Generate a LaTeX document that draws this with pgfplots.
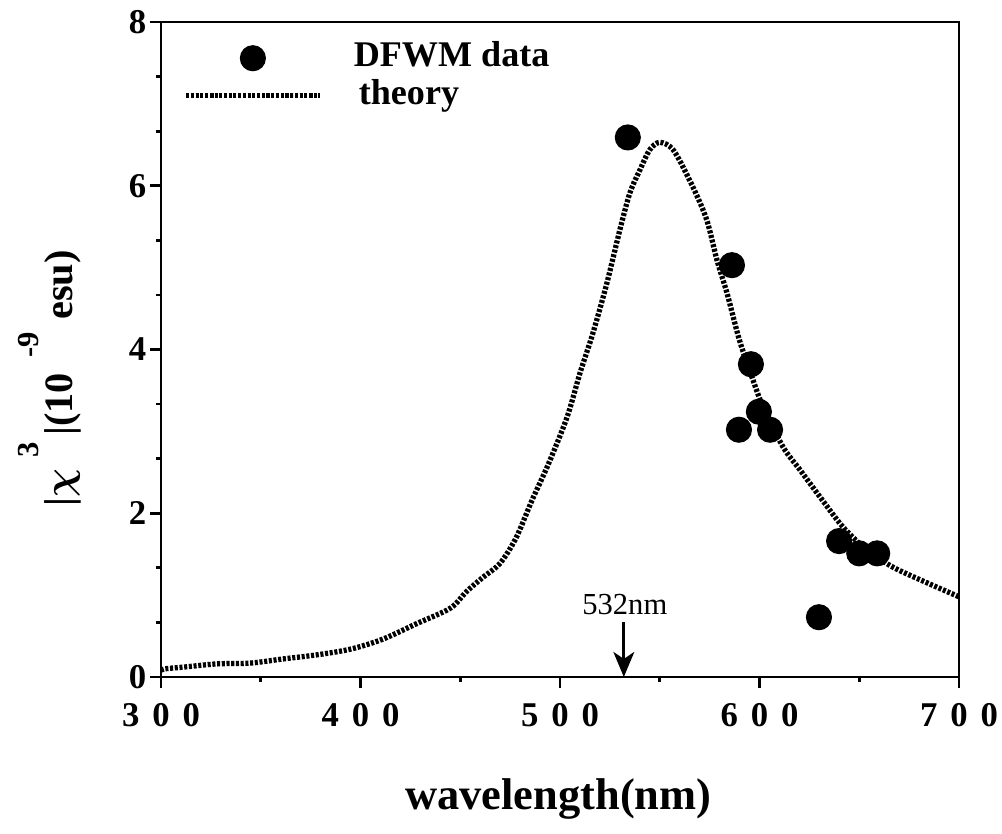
\documentclass[border=0pt]{standalone}
\usepackage{fontspec}
\setmainfont{Liberation Serif}
\usepackage{pgfplots}
\usepackage{pgfplotstable}
\pgfplotsset{compat=1.18}
\usetikzlibrary{arrows.meta}

\pgfplotstableread{
x y
300 0.08
302 0.10
311 0.12
328 0.16
345 0.17
361 0.22
378 0.27
395 0.34
411 0.46
428 0.65
445 0.84
453 1.04
461 1.21
470 1.39
478 1.70
486 2.16
494 2.59
503.5 3.17
510 3.71
516.5 4.20
523.5 4.81
530 5.46
535 5.91
540 6.19
545 6.44
550 6.53
557 6.43
566.7 5.98
573.6 5.58
578.7 5.09
583.7 4.69
590 4.11
596.7 3.63
601.8 3.30
611.8 2.81
620.3 2.53
630.3 2.20
641.9 1.83
653.9 1.55
667 1.34
684 1.15
700 0.98
}\theory

\pgfplotstableread{
x y
534 6.59
586.2 5.03
595.7 3.82
599.7 3.24
589.7 3.02
605.3 3.02
629.8 0.73
639.9 1.66
650 1.51
659 1.51
}\dfwm

\newcommand\tk[3]{#1\hspace{0.37em}#2\hspace{0.37em}#3}

\begin{document}
\begin{tikzpicture}
\begin{axis}[
  name=ax,
  scale only axis,
  width=287.28pt, height=235.8pt,
  xmin=300, xmax=700, ymin=0, ymax=8,
  xtick={300,400,500,600,700},
  xticklabels={\tk300,\tk400,\tk500,\tk600,\tk700},
  ytick={0,2,4,6,8},
  yticklabels={0,2,4,6,8},
  minor x tick num=1,
  minor y tick num=2,
  xtick align=outside, ytick align=outside,
  xtick pos=left, ytick pos=left,
  major tick length=3.8pt,
  minor tick length=1.8pt,
  axis line style={line width=1pt},
  tick style={line width=1pt, black},
  ticklabel style={font=\bfseries\fontsize{12.5}{14}\selectfont},
  xticklabel style={yshift=-2pt},
  yticklabel style={xshift=2pt},
  xlabel={\textbf{wavelength(nm)}},
  xlabel style={font=\bfseries\fontsize{16}{19}\selectfont, at={(axis description cs:0.498,-0.203)}, anchor=base},
  ylabel={|$\chi$\hspace{4pt}\raisebox{12pt}{\fontsize{11}{12}\selectfont 3}\hspace{2.5pt}|(10\hspace{5.5pt}\raisebox{12pt}{\fontsize{11}{12}\selectfont -9}\hspace{4.5pt}esu)},
  ylabel style={font=\bfseries\boldmath\fontsize{14.5}{18}\selectfont, at={(axis description cs:-0.1115,0.456)}, anchor=base},
  legend image code/.code={\draw[mark repeat=2,mark phase=2,#1] plot coordinates {(0pt,0pt)(24pt,0pt)(48pt,0pt)};},
  legend style={draw=none, fill=none, at={(axis description cs:0.0276,0.971)}, anchor=north west,
    inner sep=0pt, row sep=1.5pt, column sep=9.4pt,
    font=\bfseries\fontsize{13}{15}\selectfont,
    nodes={inner ysep=0pt, text height=9pt, text depth=3pt}},
  legend cell align=left,
]
\addplot[only marks, mark=*, mark size=4.5pt, black] table {\dfwm};
\addlegendentry{DFWM data}
\addplot[black, smooth, line width=1.9pt, dash pattern=on 1.1pt off 0.6pt] table {\theory};
\addlegendentry{\hspace{1.8pt}theory}
\draw[line width=1pt, -{Stealth[length=9pt,width=7.5pt,inset=2.5pt]}] (axis cs:532,0.67) -- (axis cs:532,0);
\node[font=\fontsize{11}{13}\selectfont, anchor=center] at (axis cs:532.5,0.88) {532nm};
\end{axis}
\pgfresetboundingbox
\path ([xshift=-57.96pt,yshift=-56.52pt]ax.south west) rectangle ([xshift=15.48pt,yshift=7.92pt]ax.north east);
\end{tikzpicture}
\end{document}
